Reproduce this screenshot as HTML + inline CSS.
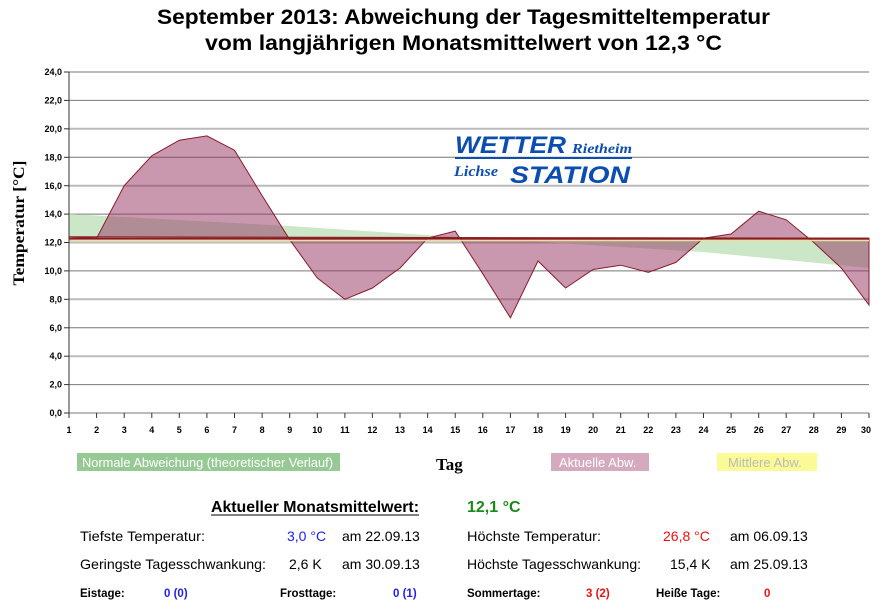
<!DOCTYPE html><html><head><style>body{margin:0;background:#fff;width:883px;height:609px;overflow:hidden;font-family:"Liberation Sans",sans-serif}svg{display:block}</style></head><body>
<svg width="883" height="609" xmlns="http://www.w3.org/2000/svg" font-family="Liberation Sans, sans-serif">
<text x="157" y="24" font-size="21" font-weight="bold" textLength="613" lengthAdjust="spacingAndGlyphs">September 2013: Abweichung der Tagesmitteltemperatur</text>
<text x="205" y="50" font-size="21" font-weight="bold" textLength="517" lengthAdjust="spacingAndGlyphs">vom langjährigen Monatsmittelwert von 12,3 °C</text>
<g stroke-width="1">
<line x1="69" x2="869" y1="72" y2="72" stroke="#bbb" stroke-width="2"/>
<line x1="69" x2="869" y1="100.4" y2="100.4" stroke="#777"/>
<line x1="69" x2="869" y1="128.8" y2="128.8" stroke="#bbb" stroke-width="2"/>
<line x1="69" x2="869" y1="157.3" y2="157.3" stroke="#777"/>
<line x1="69" x2="869" y1="185.7" y2="185.7" stroke="#bbb" stroke-width="2"/>
<line x1="69" x2="869" y1="214.1" y2="214.1" stroke="#777"/>
<line x1="69" x2="869" y1="242.5" y2="242.5" stroke="#bbb" stroke-width="2"/>
<line x1="69" x2="869" y1="270.9" y2="270.9" stroke="#777"/>
<line x1="69" x2="869" y1="299.3" y2="299.3" stroke="#bbb" stroke-width="2"/>
<line x1="69" x2="869" y1="327.8" y2="327.8" stroke="#777"/>
<line x1="69" x2="869" y1="356.2" y2="356.2" stroke="#bbb" stroke-width="2"/>
<line x1="69" x2="869" y1="384.6" y2="384.6" stroke="#777"/>
<line x1="69" x2="869" y1="413" y2="413" stroke="#bbb" stroke-width="2"/>
</g>
<polygon fill="#cce6c8" points="69,214 289,226 427,235 703,252 869,268 869,238.2 69,238.2"/>
<polygon fill="rgba(148,50,95,0.5)" stroke="#8b1a2a" stroke-width="1" points="69,236.8 96.6,238.2 124.2,185.7 151.8,155.8 179.3,140.2 206.9,135.9 234.5,150.2 262.1,195.6 289.7,239.7 317.3,278 344.9,299.3 372.4,288 400,268.1 427.6,238.2 455.2,231.1 482.8,273.8 510.4,317.8 538,261 565.6,288 593.1,269.5 620.7,265.2 648.3,272.3 675.9,262.4 703.5,238.2 731.1,234 758.7,211.2 786.2,219.8 813.8,242.5 841.4,268.1 869,305 869,238.2"/>
<line x1="69" x2="869" y1="240.5" y2="240.5" stroke="#e8e0a0" stroke-width="1.5"/>
<line x1="69" x2="869" y1="238.6" y2="238.6" stroke="#8b1a1a" stroke-width="2"/>
<line x1="69" x2="69" y1="72" y2="418" stroke="#333"/>
<g stroke="#333">
<line x1="64" x2="69" y1="72" y2="72"/><line x1="64" x2="69" y1="100.4" y2="100.4"/><line x1="64" x2="69" y1="128.8" y2="128.8"/><line x1="64" x2="69" y1="157.3" y2="157.3"/><line x1="64" x2="69" y1="185.7" y2="185.7"/><line x1="64" x2="69" y1="214.1" y2="214.1"/><line x1="64" x2="69" y1="242.5" y2="242.5"/><line x1="64" x2="69" y1="270.9" y2="270.9"/><line x1="64" x2="69" y1="299.3" y2="299.3"/><line x1="64" x2="69" y1="327.8" y2="327.8"/><line x1="64" x2="69" y1="356.2" y2="356.2"/><line x1="64" x2="69" y1="384.6" y2="384.6"/><line x1="64" x2="69" y1="413" y2="413"/>
</g>
<g font-size="9" font-weight="bold" text-anchor="end">
<text x="62" y="75">24,0</text><text x="62" y="103.5">22,0</text><text x="62" y="132">20,0</text><text x="62" y="160.5">18,0</text><text x="62" y="189">16,0</text><text x="62" y="217">14,0</text><text x="62" y="245.5">12,0</text><text x="62" y="274">10,0</text><text x="62" y="302.5">8,0</text><text x="62" y="331">6,0</text><text x="62" y="359">4,0</text><text x="62" y="387.5">2,0</text><text x="62" y="416">0,0</text>
</g>
<text transform="translate(24,223) rotate(-90)" font-family="Liberation Serif, serif" font-size="16" font-weight="bold" text-anchor="middle" textLength="125" lengthAdjust="spacingAndGlyphs">Temperatur [°C]</text>
<g font-family="Liberation Serif, serif" font-style="italic" font-weight="bold" fill="#0b4db0">
<text x="455" y="153" font-size="24" font-family="Liberation Sans, sans-serif" textLength="111" lengthAdjust="spacingAndGlyphs">WETTER</text>
<text x="572" y="153" font-size="14" textLength="60" lengthAdjust="spacingAndGlyphs">Rietheim</text>
<line x1="455" x2="632" y1="158" y2="158" stroke="#0b4db0" stroke-width="2"/>
<text x="454" y="176" font-size="15" textLength="44" lengthAdjust="spacingAndGlyphs">Lichse</text>
<text x="510" y="183" font-size="24" font-family="Liberation Sans, sans-serif" textLength="120" lengthAdjust="spacingAndGlyphs">STATION</text>
</g>
<rect x="77" y="453" width="263" height="18" fill="#97c995"/>
<text x="82" y="467" font-size="13" fill="#fff" textLength="251" lengthAdjust="spacingAndGlyphs">Normale Abweichung (theoretischer Verlauf)</text>
<text x="436" y="470" font-family="Liberation Serif, serif" font-size="17" font-weight="bold">Tag</text>
<rect x="551" y="453" width="98" height="18" fill="#d6aabe"/>
<text x="559" y="467" font-size="13" fill="#fff">Aktuelle Abw.</text>
<rect x="717" y="453" width="100" height="18" fill="#fafa96"/>
<text x="728" y="467" font-size="13" fill="#bbb">Mittlere Abw.</text>
<text x="211" y="512" font-size="16" font-weight="bold" textLength="208" lengthAdjust="spacingAndGlyphs">Aktueller Monatsmittelwert:</text>
<line x1="211" x2="419" y1="515" y2="515" stroke="#000"/>
<text x="467" y="512" font-size="16" font-weight="bold" fill="#1a8a1a">12,1 °C</text>
<g font-size="14">
<text x="80" y="541" textLength="125" lengthAdjust="spacingAndGlyphs">Tiefste Temperatur:</text><text x="287" y="541" fill="#2020ee">3,0 °C</text><text x="342" y="541">am 22.09.13</text>
<text x="467" y="541" textLength="134" lengthAdjust="spacingAndGlyphs">Höchste Temperatur:</text><text x="663" y="541" fill="#ee1010">26,8 °C</text><text x="730" y="541">am 06.09.13</text>
<text x="80" y="569" textLength="186" lengthAdjust="spacingAndGlyphs">Geringste Tagesschwankung:</text><text x="289" y="569">2,6 K</text><text x="342" y="569">am 30.09.13</text>
<text x="467" y="569" textLength="174" lengthAdjust="spacingAndGlyphs">Höchste Tagesschwankung:</text><text x="670" y="569">15,4 K</text><text x="730" y="569">am 25.09.13</text>
</g>
<g font-size="11.5" font-weight="bold">
<text x="80" y="597">Eistage:</text><text x="164" y="597" fill="#2020ee">0 (0)</text>
<text x="280" y="597">Frosttage:</text><text x="393" y="597" fill="#2020ee">0 (1)</text>
<text x="467" y="597">Sommertage:</text><text x="586" y="597" fill="#ee1010">3 (2)</text>
<text x="656" y="597">Heiße Tage:</text><text x="764" y="597" fill="#ee1010">0</text>
</g>
<g font-size="9" font-weight="bold" text-anchor="middle">
<text x="69" y="433">1</text><text x="96.6" y="433">2</text><text x="124.2" y="433">3</text><text x="151.8" y="433">4</text><text x="179.3" y="433">5</text><text x="206.9" y="433">6</text><text x="234.5" y="433">7</text><text x="262.1" y="433">8</text><text x="289.7" y="433">9</text><text x="317.3" y="433">10</text><text x="344.9" y="433">11</text><text x="372.4" y="433">12</text><text x="400" y="433">13</text><text x="427.6" y="433">14</text><text x="455.2" y="433">15</text><text x="482.8" y="433">16</text><text x="510.4" y="433">17</text><text x="538" y="433">18</text><text x="565.6" y="433">19</text><text x="593.1" y="433">20</text><text x="620.7" y="433">21</text><text x="648.3" y="433">22</text><text x="675.9" y="433">23</text><text x="703.5" y="433">24</text><text x="731.1" y="433">25</text><text x="758.7" y="433">26</text><text x="786.2" y="433">27</text><text x="813.8" y="433">28</text><text x="841.4" y="433">29</text><text x="866" y="433">30</text>
</g>
<g stroke="#333">
<line x1="96.6" x2="96.6" y1="413" y2="418"/><line x1="124.2" x2="124.2" y1="413" y2="418"/><line x1="151.8" x2="151.8" y1="413" y2="418"/><line x1="179.3" x2="179.3" y1="413" y2="418"/><line x1="206.9" x2="206.9" y1="413" y2="418"/><line x1="234.5" x2="234.5" y1="413" y2="418"/><line x1="262.1" x2="262.1" y1="413" y2="418"/><line x1="289.7" x2="289.7" y1="413" y2="418"/><line x1="317.3" x2="317.3" y1="413" y2="418"/><line x1="344.9" x2="344.9" y1="413" y2="418"/><line x1="372.4" x2="372.4" y1="413" y2="418"/><line x1="400" x2="400" y1="413" y2="418"/><line x1="427.6" x2="427.6" y1="413" y2="418"/><line x1="455.2" x2="455.2" y1="413" y2="418"/><line x1="482.8" x2="482.8" y1="413" y2="418"/><line x1="510.4" x2="510.4" y1="413" y2="418"/><line x1="538" x2="538" y1="413" y2="418"/><line x1="565.6" x2="565.6" y1="413" y2="418"/><line x1="593.1" x2="593.1" y1="413" y2="418"/><line x1="620.7" x2="620.7" y1="413" y2="418"/><line x1="648.3" x2="648.3" y1="413" y2="418"/><line x1="675.9" x2="675.9" y1="413" y2="418"/><line x1="703.5" x2="703.5" y1="413" y2="418"/><line x1="731.1" x2="731.1" y1="413" y2="418"/><line x1="758.7" x2="758.7" y1="413" y2="418"/><line x1="786.2" x2="786.2" y1="413" y2="418"/><line x1="813.8" x2="813.8" y1="413" y2="418"/><line x1="841.4" x2="841.4" y1="413" y2="418"/><line x1="869" x2="869" y1="413" y2="418"/>
</g>
</svg>
</body></html>
